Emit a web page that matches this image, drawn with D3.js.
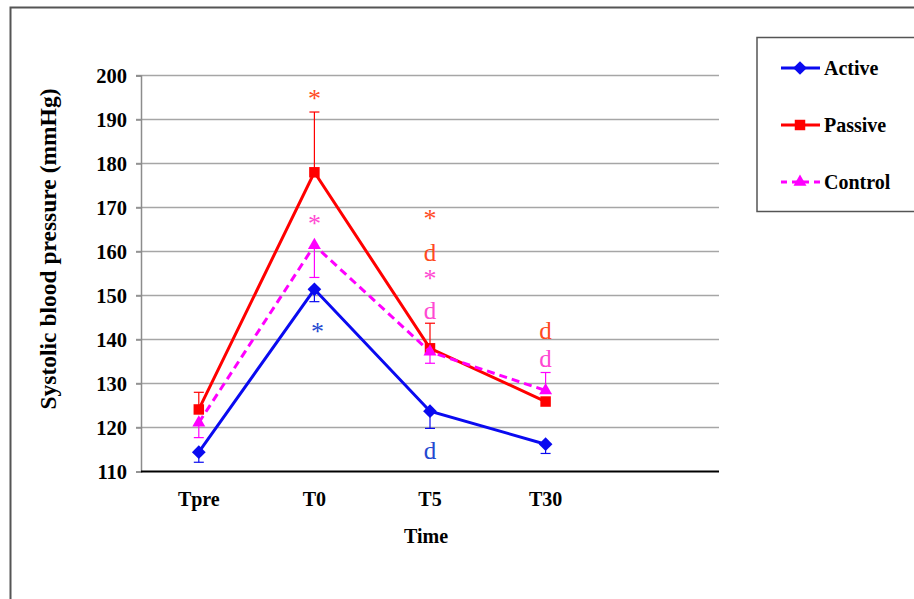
<!DOCTYPE html>
<html>
<head>
<meta charset="utf-8">
<script src="https://cdn.jsdelivr.net/npm/d3@7"></script>
<style>
  html, body { margin: 0; padding: 0; background: #ffffff; }
  svg { display: block; }
  text { font-family: "Liberation Serif", "DejaVu Serif", "Noto Serif", serif; font-weight: bold; }
</style>
</head>
<body>
<svg id="chart" width="914" height="599"></svg>
<script>
// Systolic blood pressure by time point and group
const categories = ["Tpre", "T0", "T5", "T30"];
const yTicks = [110, 120, 130, 140, 150, 160, 170, 180, 190, 200];

const activeValues  = [114.4, 151.4, 123.7, 116.2];
const activeLower   = [2.3, 2.8, 3.9, 2.1];
const passiveValues = [124.1, 178.0, 138.0, 125.9];
const passiveUpper  = [3.9, 13.7, 5.7, 0];
const controlValues = [121.1, 161.4, 137.2, 128.4];
const controlLower  = [3.4, 7.3, 2.6, 0];
const controlUpper  = [0, 0, 0, 4.1];

// Significance markers: category, symbol, group, level in mmHg
const markCats   = ["T0", "T0", "T0", "T5", "T5", "T5", "T5", "T5", "T30", "T30"];
const markText   = ["*", "*", "*", "*", "d", "*", "d", "d", "d", "d"];
const markGroup  = ["Passive", "Control", "Active", "Passive", "Passive", "Control", "Control", "Active", "Passive", "Control"];
const markLevel  = [195.2, 166.8, 142.2, 167.9, 160.0, 154.3, 146.8, 114.9, 142.2, 135.8];

const svg = d3.select("#chart");
const serif = '"Liberation Serif", "DejaVu Serif", "Noto Serif", serif';

// outer frame
svg.append("rect").attr("x", 10.5).attr("y", 7.5).attr("width", 920).attr("height", 610)
  .attr("fill", "none").attr("stroke", "#555").attr("stroke-width", 2);

const plot = { left: 141, right: 719, top: 75.5, bottom: 471.5 };

// five equal slots, the last one left empty
const x = d3.scaleBand().domain(categories.concat([""])).range([plot.left, plot.right]);
const cx = c => x(c) + x.bandwidth() / 2;
const y = d3.scaleLinear().domain([110, 200]).range([plot.bottom, plot.top]);

// gridlines
svg.append("g").selectAll("line").data(yTicks.slice(1)).join("line")
  .attr("x1", plot.left - 5).attr("x2", plot.right)
  .attr("y1", d => y(d)).attr("y2", d => y(d))
  .attr("stroke", "#a6a6a6").attr("stroke-width", 1.5);

// y axis
const yAxis = svg.append("g").attr("transform", `translate(${plot.left},0)`)
  .call(d3.axisLeft(y).tickValues(yTicks).tickSize(5).tickPadding(9));
yAxis.attr("font-family", null);
yAxis.select(".domain").attr("stroke", "#8c8c8c").attr("stroke-width", 1.5);
yAxis.selectAll(".tick line").attr("stroke", "#8c8c8c").attr("stroke-width", 1.5);
yAxis.selectAll(".tick text").attr("fill", "#000")
  .style("font-family", serif).style("font-size", "20.5px").style("font-weight", "bold");

// x axis
const xAxis = svg.append("g").attr("transform", `translate(0,${plot.bottom})`)
  .call(d3.axisBottom(x).tickValues(categories).tickSize(0).tickPadding(20));
xAxis.attr("font-family", null);
xAxis.select(".domain").attr("stroke", "#000").attr("stroke-width", 2).attr("d", `M${plot.left},0H${plot.right}`);
xAxis.selectAll(".tick text").attr("fill", "#000")
  .style("font-family", serif).style("font-size", "20px").style("font-weight", "bold");

// axis titles
svg.append("text").attr("x", 426).attr("y", 543).attr("text-anchor", "middle")
  .style("font-size", "20px").text("Time");
svg.append("text").attr("transform", "translate(56,249) rotate(-90)").attr("text-anchor", "middle")
  .style("font-size", "23.5px").text("Systolic blood pressure (mmHg)");

const series = [
  { name: "Active",  values: activeValues,  color: "#0a0af0", dash: null,  symbol: d3.symbolDiamond2, size: 120, lower: activeLower, upper: null },
  { name: "Passive", values: passiveValues, color: "#ff0000", dash: null,  symbol: d3.symbolSquare2,  size: 140, lower: null, upper: passiveUpper },
  { name: "Control", values: controlValues, color: "#ff00ff", dash: "8,5", symbol: d3.symbolTriangle2, size: 120, lower: controlLower, upper: controlUpper }
];
const markColor = { Active: "#2448d0", Passive: "#ff4a1f", Control: "#ff48d2" };

const line = d3.line().x((d, i) => cx(categories[i])).y(d => y(d));

series.forEach(s => {
  const g = svg.append("g");
  // error bars
  const bars = [];
  categories.forEach((c, i) => {
    if (s.lower && s.lower[i] > 0) bars.push({ c, from: s.values[i], to: s.values[i] - s.lower[i] });
    if (s.upper && s.upper[i] > 0) bars.push({ c, from: s.values[i], to: s.values[i] + s.upper[i] });
  });
  g.selectAll("line.eb").data(bars).join("line").attr("class", "eb")
    .attr("x1", d => cx(d.c)).attr("x2", d => cx(d.c))
    .attr("y1", d => y(d.from)).attr("y2", d => y(d.to))
    .attr("stroke", s.color).attr("stroke-width", 1.2);
  g.selectAll("line.cap").data(bars).join("line").attr("class", "cap")
    .attr("x1", d => cx(d.c) - 5).attr("x2", d => cx(d.c) + 5)
    .attr("y1", d => y(d.to)).attr("y2", d => y(d.to))
    .attr("stroke", s.color).attr("stroke-width", 1.2);
  g.append("path").attr("d", line(s.values)).attr("fill", "none")
    .attr("stroke", s.color).attr("stroke-width", 3)
    .attr("stroke-dasharray", s.dash);
  g.selectAll("path.pt").data(s.values).join("path").attr("class", "pt")
    .attr("transform", (d, i) => `translate(${cx(categories[i])},${y(d)})`)
    .attr("d", d3.symbol(s.symbol, s.size)).attr("fill", s.color);
});

// significance markers
const marks = markCats.map((c, i) => ({ c, t: markText[i], g: markGroup[i], v: markLevel[i] }));
svg.append("g").selectAll("text").data(marks).join("text")
  .attr("x", d => cx(d.c) + (d.g === "Active" && d.t === "*" ? 3 : 0))
  .attr("y", d => y(d.v) + (d.t === "*" ? 10 : 9))
  .attr("text-anchor", "middle")
  .style("font-weight", "normal")
  .style("font-size", d => d.t === "*" ? "26px" : "25px")
  .attr("fill", d => markColor[d.g])
  .text(d => d.t);

// legend
const lg = svg.append("g");
lg.append("rect").attr("x", 757).attr("y", 37.5).attr("width", 170).attr("height", 174)
  .attr("fill", "#fff").attr("stroke", "#555").attr("stroke-width", 1.5);
series.forEach((s, i) => {
  const ly = 68 + i * 57;
  lg.append("line").attr("x1", 781).attr("x2", 820).attr("y1", ly).attr("y2", ly)
    .attr("stroke", s.color).attr("stroke-width", 3).attr("stroke-dasharray", s.dash ? "6,5" : null);
  lg.append("path").attr("transform", `translate(800,${ly})`)
    .attr("d", d3.symbol(s.symbol, s.size)).attr("fill", s.color);
  lg.append("text").attr("x", 824).attr("y", ly + 7).style("font-size", "20px").text(s.name);
});
</script>
</body>
</html>
